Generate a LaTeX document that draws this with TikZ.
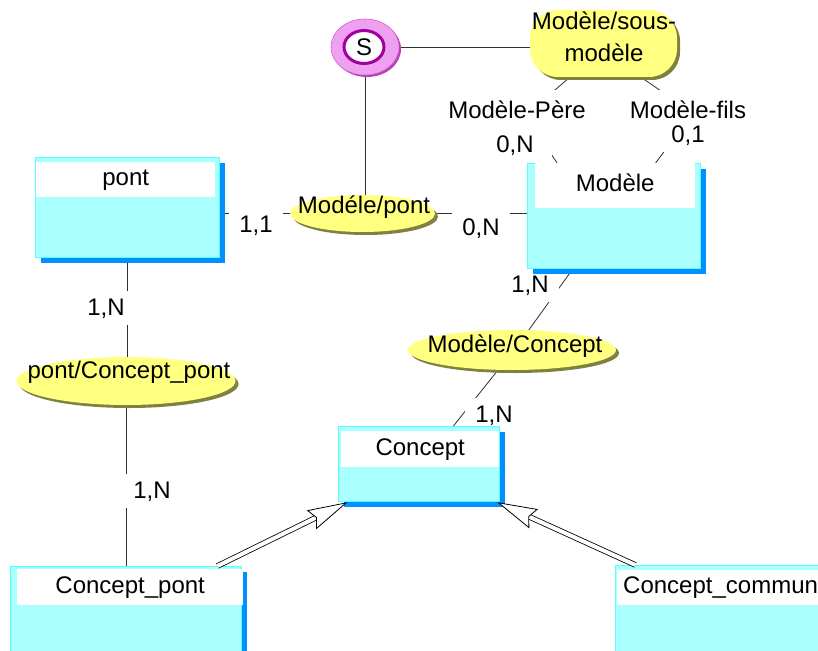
\documentclass[tikz,border=0pt]{standalone}
\usepackage{fontspec}
\setmainfont{Liberation Sans}
\usetikzlibrary{positioning,arrows.meta,shapes.geometric,shadows}
\definecolor{ebody}{HTML}{AAFFFF}
\definecolor{eline}{HTML}{55FFFF}
\definecolor{eshadow}{HTML}{0090FF}
\definecolor{rfill}{HTML}{FFFF80}
\definecolor{rshadow}{HTML}{808040}
\definecolor{spink}{HTML}{F0A0F0}
\definecolor{spurple}{HTML}{A000A0}
\definecolor{lnk}{HTML}{303030}
\pgfdeclarelayer{bg}
\pgfdeclarelayer{lab}
\pgfsetlayers{bg,lab,main}
\tikzset{
  ent/.style  = {draw=eline, fill=ebody, line width=1.2pt, anchor=north west, inner sep=0pt,
                 drop shadow={shadow xshift=5pt, shadow yshift=-5pt, fill=eshadow, opacity=1}},
  eh/.style   = {fill=white, anchor=north west, inner sep=0pt, text height=17pt, text depth=5pt},
  rel/.style  = {ellipse, fill=rfill, inner sep=0pt,
                 drop shadow={shadow xshift=3pt, shadow yshift=-3pt, fill=rshadow, opacity=1}},
  ring/.style = {ellipse, fill=spink, draw=spink!60!spurple, line width=0.6pt, inner sep=0pt,
                 drop shadow={shadow xshift=2pt, shadow yshift=-2pt, fill=spurple!75, opacity=1}},
  ringin/.style = {ellipse, fill=white, draw=spurple, line width=3pt, inner sep=0pt},
  tx/.style   = {anchor=base, inner sep=0pt},
  card/.style = {fill=white, anchor=base, inner xsep=10pt, inner ysep=7pt},
  role/.style = {fill=white, anchor=base, inner xsep=4pt, inner ysep=10pt},
  lk/.style   = {draw=lnk, line width=0.8pt},
  isa/.style  = {draw=black, line width=0.8pt, double=white, double distance=4pt,
                 -{Stealth[length=40pt, width=21pt, inset=5pt, open, fill=white, line width=0.8pt]}},
}

\begin{document}
\begin{tikzpicture}[x=1pt, y=-1pt, font=\fontsize{24}{32}\selectfont]
\useasboundingbox (0,0) rectangle (818,650);
\clip (0,0) rectangle (818,650);

% entities: body, then white title strip
\node[ent, minimum width=184pt, minimum height=100pt] (pont) at (35,157) {};
\node[eh, minimum width=179pt, minimum height=35pt] (pontH) at (36,162) {pont};

\node[ent, minimum width=173pt, minimum height=105pt] (modele) at (527,163) {};
\node[eh, minimum width=160pt, minimum height=45pt] (modeleH) at (535,163) {Modèle};

\node[ent, minimum width=161pt, minimum height=75pt] (concept) at (338,426) {};
\node[eh, minimum width=158pt, minimum height=36pt] (conceptH) at (341,431) {Concept};

\node[ent, minimum width=231pt, minimum height=100pt] (cpont) at (10,566) {};
\node[eh, minimum width=226pt, minimum height=36pt] (cpontH) at (17,569) {Concept\_pont};

\node[ent, minimum width=230pt, minimum height=100pt] (ccom) at (615,565) {};
\node[eh, text width=201pt, inner xsep=6pt, align=left, minimum height=35pt] (ccomH) at (617,570) {Concept\_commun};

% relations
\node[rel, rectangle, rounded corners=28pt, minimum width=147pt, minimum height=67pt] (sm) at (603.5,43.5) {};
\node[anchor=north, inner sep=0pt, align=center] (smT) at (604,12) {Modèle/sous-\\modèle};

\node[rel, minimum width=145pt, minimum height=37pt] (mp) at (362.5,213.5) {};
\node[tx] (mpT) at (364,213) {Modéle/pont};

\node[rel, minimum width=208pt, minimum height=40pt] (mc) at (512,350) {};
\node[tx] (mcT) at (515,352) {Modèle/Concept};

\node[rel, minimum width=219pt, minimum height=48pt] (pc) at (126,381) {};
\node[tx] (pcT) at (129,378) {pont/Concept\_pont};

% sub-type symbol
\node[ring, minimum width=68pt, minimum height=56pt] (sym) at (365,47) {};
\node[ringin, minimum width=40pt, minimum height=33pt] (symS) at (364,47) {S};

\coordinate (pereK) at (525,116);
\coordinate (filsK) at (693,113);

\begin{pgfonlayer}{bg}
\draw[lk] (sym.east) -- (sym.east -| sm.west);
\draw[lk] (sym.south) -- (sym.south |- mp.north);
\draw[lk] (sm.-135) -- (pereK) -- (modele.137);
\draw[lk] (sm.-42) -- (filsK) -- (modele.52);
\draw[lk] (mp.west) -- (mp.west -| pont.east);
\draw[lk] (mp.east) -- (mp.east -| modele.west);
\draw[lk] (modele.-128) -- (mc.50);
\draw[lk] (mc.-125) -- (concept.48);
\draw[lk] (pont.south) -- (pont.south |- pc.north);
\draw[lk] (pc.south) -- (pc.south |- cpont.north);
\end{pgfonlayer}

% roles and cardinalities hide the middle of the links
\begin{pgfonlayer}{lab}
\node[role] (pere) at (517,118) {Modèle-Père};
\node[role] (fils) at (688,118) {Modèle-fils};
\node[card, inner xsep=18pt] (cPere) at (515,152) {0,N};
\node[card] (cFils) at (688,142) {0,1};
\node[card] (cPont) at (256,232) {1,1};
\node[card] (cMod) at (481,235) {0,N};
\node[card] (cModC) at (530,292) {1,N};
\node[card] (cConc) at (494,422) {1,N};
\node[card] (cPontC) at (106,315) {1,N};
\node[card] (cCp) at (152,498) {1,N};
\end{pgfonlayer}

% inheritance
\draw[isa] (cpont.29) -- (concept.208);
\draw[isa] (ccom.152) -- (concept.-26);

\end{tikzpicture}
\end{document}
